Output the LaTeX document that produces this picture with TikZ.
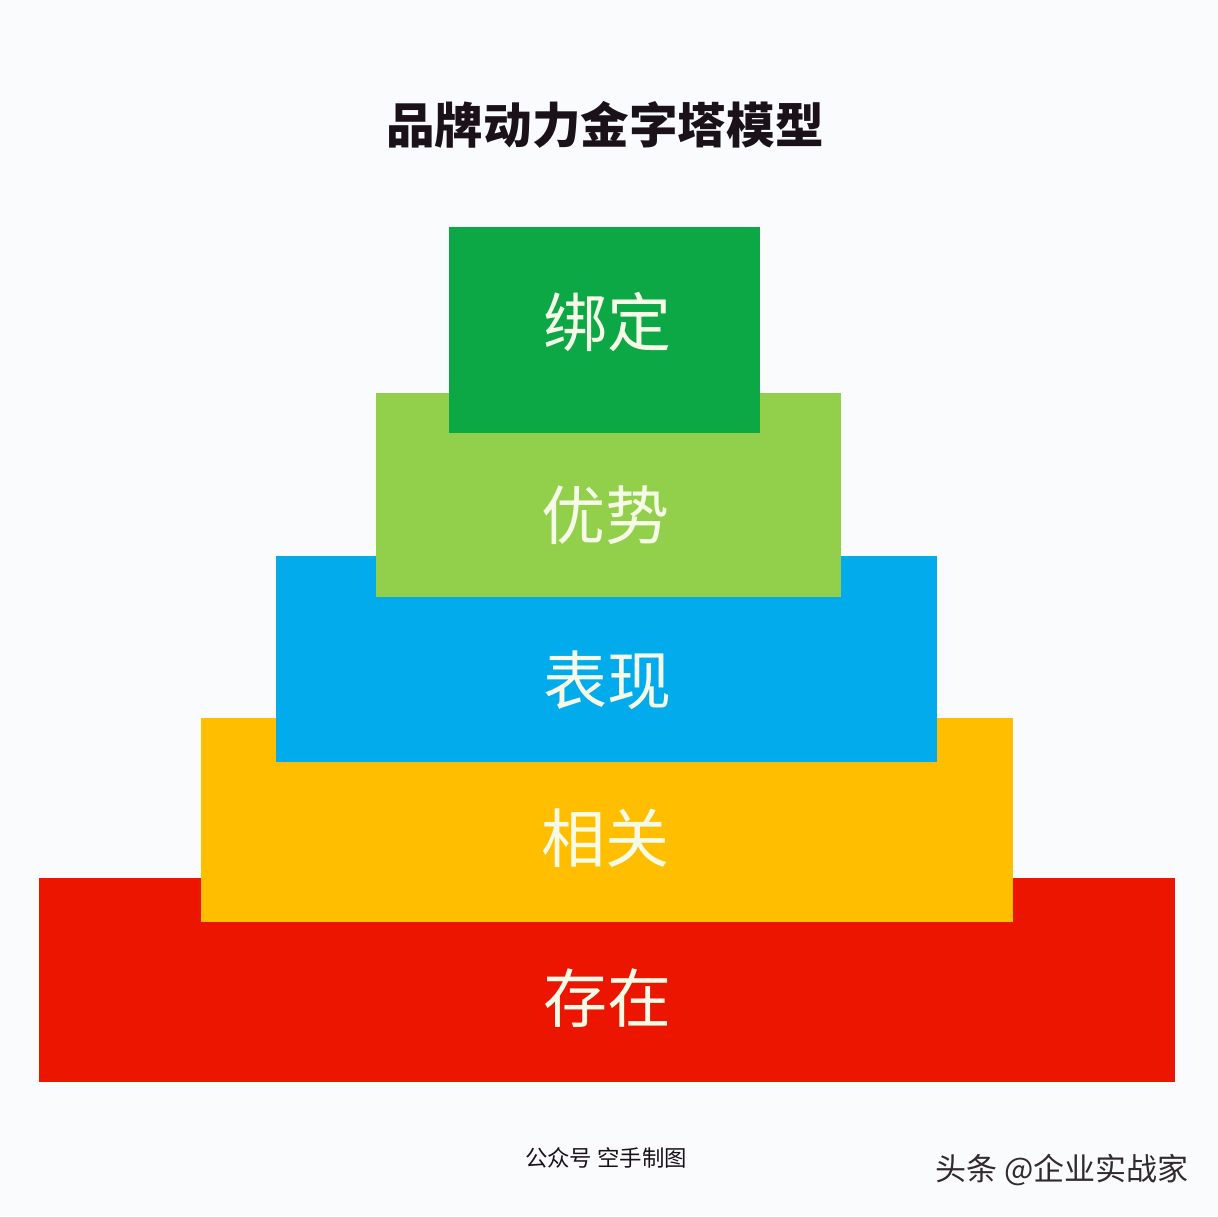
\documentclass[tikz,border=0pt]{standalone}
\usepackage{fontspec}
\newfontfamily\cjk{Noto Sans CJK SC}
\definecolor{bgc}{HTML}{FAFBFD}
\definecolor{c1}{HTML}{0CA846}
\definecolor{c2}{HTML}{92D04C}
\definecolor{c3}{HTML}{02ABEC}
\definecolor{c4}{HTML}{FFBF00}
\definecolor{c5}{HTML}{EC1500}
\definecolor{lbl}{HTML}{F6FBE8}
\definecolor{ink}{HTML}{1A1218}
\tikzset{
  tier/.style={rectangle, inner sep=0pt, draw=none},
  tierlabel/.style={font=\cjk\fontsize{32}{36}\selectfont, text=lbl},
}
\begin{document}
\begin{tikzpicture}[x=0.5pt,y=-0.5pt]
\fill[bgc] (0,0) rectangle (1218,1216);
\useasboundingbox (0,0) rectangle (1218,1216);
\node[font=\cjk\bfseries\fontsize{24.3}{28}\selectfont, text=ink] (title) at (605,125) {品牌动力金字塔模型};
\node[tier, fill=c5, minimum width=568pt, minimum height=102pt] (red) at (607,980) {};
\node[tier, fill=c4, minimum width=406pt, minimum height=102pt] (yellow) at (607,820) {};
\node[tier, fill=c3, minimum width=330.5pt, minimum height=103pt] (blue) at (606.5,659) {};
\node[tier, fill=c2, minimum width=232.5pt, minimum height=102pt] (lgreen) at (608.5,495) {};
\node[tier, fill=c1, minimum width=155.5pt, minimum height=103pt] (green) at (604.5,330) {};
\node[tierlabel] (l1) at (607,322) {绑定};
\node[tierlabel] (l2) at (605,515) {优势};
\node[tierlabel] (l3) at (607,680) {表现};
\node[tierlabel] (l4) at (605,838) {相关};
\node[tierlabel] (l5) at (607,998) {存在};
\node[font=\cjk\fontsize{11.2}{13}\selectfont, text=ink] (src) at (606,1158) {公众号\ 空手制图};
\node[font=\cjk\fontsize{15.5}{18}\selectfont, text=ink!90] (wm) at (1062,1170) {头条 @企业实战家};
\end{tikzpicture}
\end{document}
